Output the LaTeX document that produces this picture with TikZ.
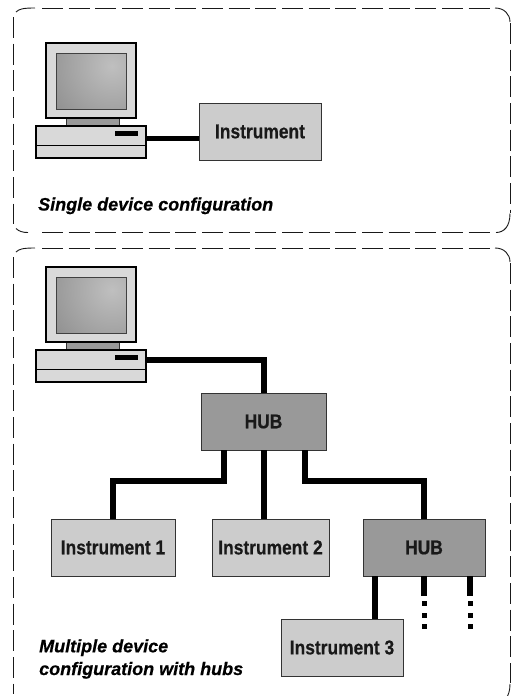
\documentclass[tikz,border=0pt]{standalone}
\usepackage{fontspec}
\setmainfont{Liberation Sans}
\newfontfamily\boxfont{Liberation Sans Bold}[FakeStretch=0.87,FakeBold=0.5]
\newfontfamily\capfont{Liberation Sans Bold Italic}[FakeStretch=1.0,FakeBold=0.5]
\newcommand{\panelshape}[2]{%
  \draw[panelcurve] (16,#1+4) .. controls (19,#1+1) and (23,#1) .. (35,#1);
  \draw[panelcurve] (495,#1) .. controls (504,#1) and (510,#1+6) .. (510,#1+14);
  \draw[paneldash] (13,#1+9) -- (13,#2-9);
  \draw[paneldash] (510,#1+15) -- (510,#2-20);
  \draw[paneldash] (42,#1) -- (491,#1);
  \draw[paneldash] (42,#2) -- (491,#2);
  \draw[panelcurve] (16,#2-4) .. controls (19,#2-1) and (23,#2) .. (28,#2);
  \draw[panelcurve] (496,#2) .. controls (504,#2) and (510,#2-6) .. (510,#2-19);
}
\begin{document}
\begin{tikzpicture}[x=1pt,y=-1pt,
  panelcurve/.style={draw=black!90,line width=0.9pt},
  paneldash/.style={draw=black!90,line width=0.9pt,dash pattern=on 21pt off 5.67pt},
  box/.style={draw=black!80,line width=1pt,inner sep=0pt,outer sep=0pt,font=\boxfont\fontsize{20}{22}\selectfont,text=black!90},
  instr/.style={box,fill=black!20,minimum width=122pt,minimum height=57pt},
  hubbox/.style={box,fill=black!40,minimum width=122pt,minimum height=57pt},
  wire/.style={line width=5.3pt,black,line cap=butt,line join=miter},
  dot/.style={fill=black,inner sep=0pt,outer sep=0pt,minimum size=5pt},
  caption/.style={inner sep=0pt,anchor=base west,align=left,font=\capfont\fontsize{18}{22.7}\selectfont,text=black},
  pcline/.style={draw=black,line width=2pt},
  pcfill/.style={pcline,fill=black!15},
  pics/computer/.style={code={
    \draw[draw=black!80,line width=1pt,fill=black!40] (66,118) rectangle (119,126);
    \draw[pcfill] (46,43) rectangle (136,118);
    \begin{scope}
      \clip (56,53) rectangle (126,109);
      \shade[inner color=black!25,outer color=black!47] (112,66) circle (85);
    \end{scope}
    \draw[draw=black!75,line width=1pt] (56,53) rectangle (126,109);
    \draw[pcfill] (36,126) rectangle (146,158);
    \draw[draw=black,line width=1pt] (36,145) -- (146,145);
    \fill[black] (115,131) rectangle (138,136);
  }}]
\useasboundingbox (0,0) rectangle (516,696);
\fill[white] (0,0) rectangle (516,696);
\begin{scope}
  \clip (0,0) rectangle (516,696);
  \panelshape{8}{232.5}
  \panelshape{248}{703}
\end{scope}
\pic (pca) at (0,0) {computer};
\pic (pcb) at (0,224) {computer};
\coordinate (porta) at (147,138.5);
\coordinate (portb) at (147,360);
% upper
\node[instr] (inst) at (260,131.5) {Instrument};
\draw[wire] (porta) -- (porta -| inst.west);
\node[caption] (cap1) at (38,210.5) {Single device configuration};
% lower
\node[hubbox,minimum width=125pt] (hub) at (263.5,421.5) {HUB};
\node[instr,minimum width=124pt] (i1) at (113,547.5) {Instrument 1};
\node[instr,minimum width=117pt] (i2) at (270.5,547.5) {Instrument 2};
\node[hubbox] (hub2) at (424,547.5) {HUB};
\node[instr] (i3) at (342,647.5) {Instrument 3};
\coordinate (h1) at (224,450);
\coordinate (h2) at (264,450);
\coordinate (h3) at (305,450);
\coordinate (s0) at (375,576);
\coordinate (s1) at (424,576);
\coordinate (s2) at (470,576);
\draw[wire] (portb) -| (h2 |- hub.north);
\draw[wire] (h1) |- (i1.north |- 0,481) -- (i1.north);
\draw[wire] (h2) -- (h2 |- i2.north);
\draw[wire] (h3) |- (hub2.north |- 0,481) -- (hub2.north);
\draw[wire] (s0) -- (s0 |- i3.north);
\draw[wire] (s1) -- ++(0,20);
\draw[wire] (s2) -- ++(0,20);
\foreach \n/\x in {a/424,b/470}\foreach \m/\y in {1/603.5,2/615,3/626}
  \node[dot] (d\n\m) at (\x,\y) {};
\node[caption] (cap2) at (39,675) {Multiple device\\configuration with hubs};
\end{tikzpicture}
\end{document}
